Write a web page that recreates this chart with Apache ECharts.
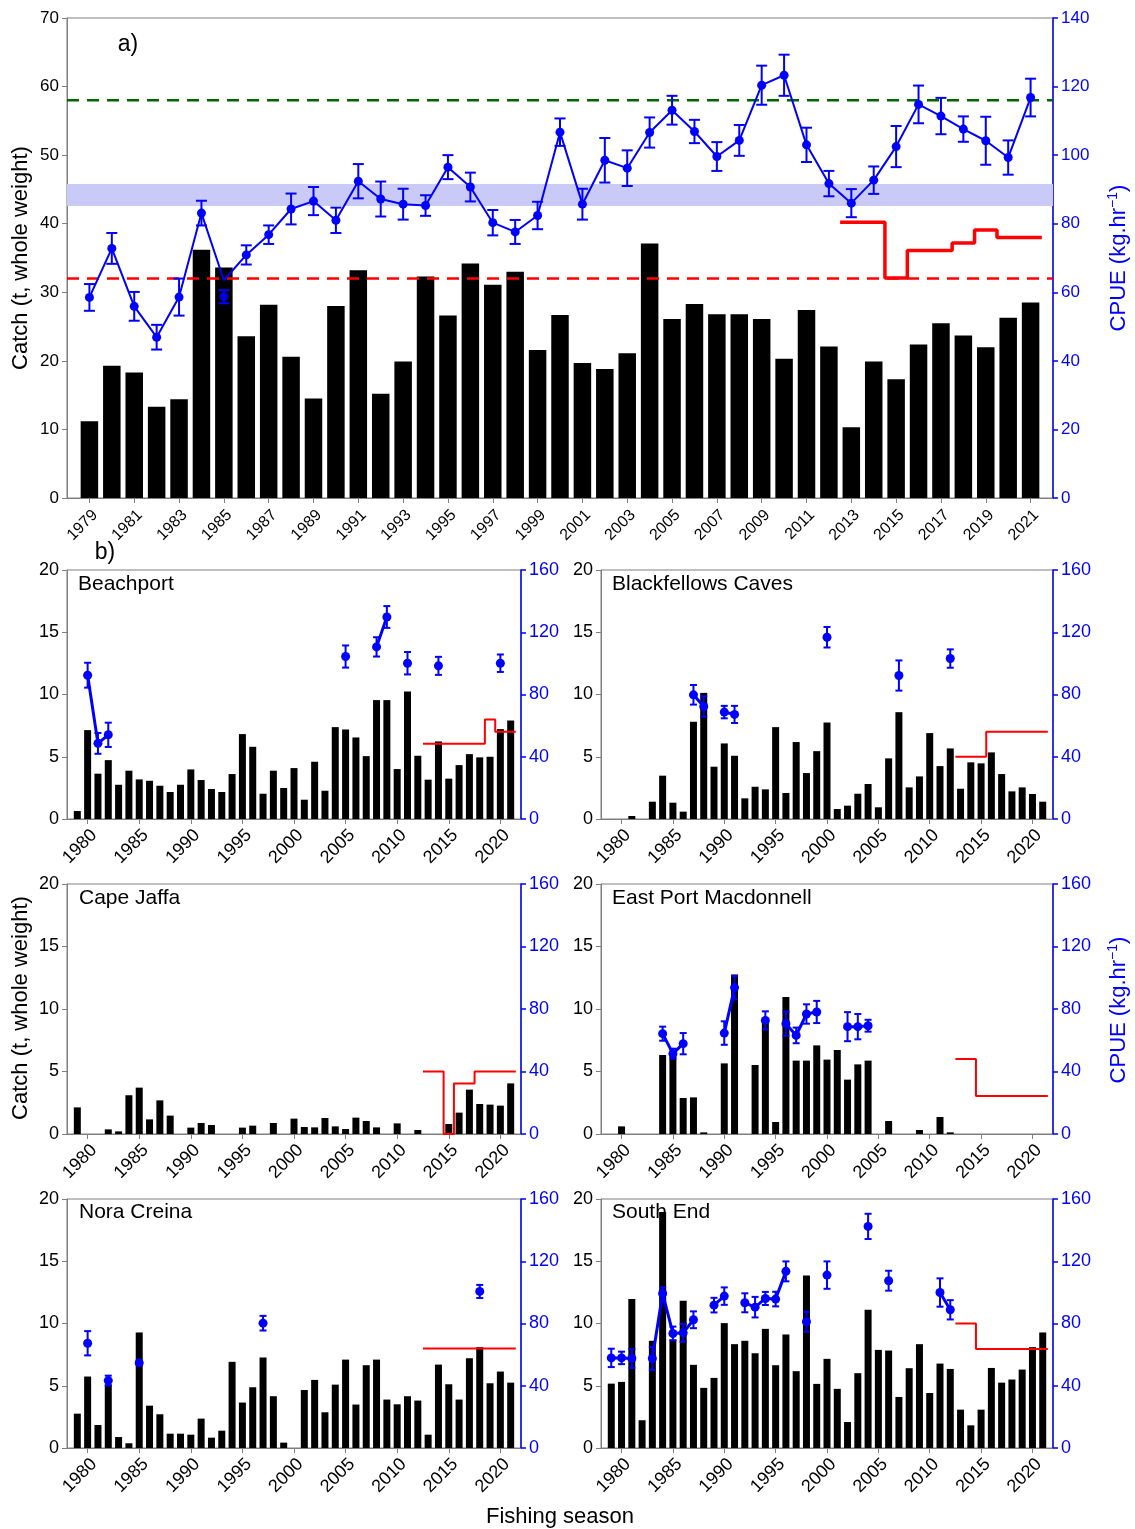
<!DOCTYPE html>
<html><head><meta charset="utf-8">
<script src="https://cdn.jsdelivr.net/npm/echarts@6/dist/echarts.min.js"></script>
<style>html,body{margin:0;padding:0;background:#fff}#c{width:1135px;height:1529px}</style>
</head><body><div id="c"></div>
<script>
// ---------------- DATA ----------------
const FIRST_YEAR = 1979, LAST_YEAR = 2021;
const years = [];
for (let y = FIRST_YEAR; y <= LAST_YEAR; y++) years.push(y);

// Panel a: whole zone
const totalCatch = [11.2,19.3,18.3,13.3,14.4,36.2,33.6,23.6,28.2,20.6,
                    14.5,28.0,33.2,15.2,19.9,32.3,26.6,34.2,31.1,33.0,
                    21.6,26.7,19.7,18.8,21.1,37.1,26.1,28.3,26.8,26.8,
                    26.1,20.3,27.4,22.1,10.3,19.9,17.3,22.4,25.5,23.7,
                    22.0,26.3,28.5];
const totalCpue = [58.5,72.8,55.9,46.9,58.6,83.1,63.5,70.9,76.8,84.3,
                   86.6,81.0,92.4,87.2,85.7,85.3,96.5,90.7,80.3,77.6,
                   82.4,106.7,85.7,98.5,96.2,106.6,113.1,106.9,99.6,104.3,
                   120.4,123.3,103.0,91.7,86.0,92.7,102.5,114.8,111.4,107.6,
                   104.2,99.3,116.8];
const totalCpueErr = [3.9,4.5,4.2,3.6,5.4,3.6,null,2.8,2.7,4.5,
                      4.1,3.7,5.0,5.1,4.5,3.0,3.5,4.2,3.7,3.5,
                      4.0,4.0,4.5,6.5,5.2,4.4,4.2,3.4,4.2,4.5,
                      5.7,6.0,5.0,3.7,4.1,4.0,6.0,5.5,5.3,3.7,
                      7.0,5.0,5.5];
const offLineYear = [1985], offLineCpue = [58.7], offLineErr = [1.9];
const totalTacX = [2012.5,2014.5,2015.5,2017.5,2018.5,2019.5,2021.5];
const totalTacY = [40.2,32.1,36.1,37.2,39.1,38.0,38.0];
const targetCpue = 116, limitCpue = 64;
const bandCpue = [85.2, 91.6];
const ticksA = years.filter(y => y % 2 === 1);
const ticksB = [1980,1985,1990,1995,2000,2005,2010,2015,2020];

// Beachport
const beachCatch = [0.64,7.14,3.64,4.73,2.75,3.88,3.18,3.07,2.67,2.17,
                    2.75,3.98,3.13,2.41,2.17,3.61,6.82,5.80,2.03,3.88,
                    2.49,4.09,1.55,4.60,2.27,7.38,7.19,6.55,5.05,9.55,
                    9.55,4.01,10.24,5.08,3.16,6.23,3.24,4.33,5.21,4.95,
                    5.0,7.22,7.91];
const beachCpueYears = [1980,1981,1982,2005,2008,2009,2011,2014,2020];
const beachCpue = [92.4,48.6,54.1,104.4,110.6,129.8,100.1,98.4,100.1];
const beachCpueErr = [8,6.7,7.8,7.1,6.2,7,7.2,5.8,5.6];
const beachTacX = [2012.5,2018.5,2019.5,2021.5];
const beachTacY = [6.04,8.0,7.0,7.0];

// Blackfellows Caves
const blackCatch = [null,null,0.24,null,1.39,3.48,1.31,0.59,7.81,10.13,
                    4.20,6.07,5.08,1.66,2.59,2.38,7.38,2.09,6.18,3.69,
                    5.45,7.75,0.80,1.07,2.03,2.81,0.94,4.87,8.58,2.54,
                    3.42,6.90,4.25,5.67,2.43,4.55,4.47,5.35,3.61,2.22,
                    2.54,2.01,1.39];
const blackCpueYears = [1987,1988,1990,1991,2000,2007,2012];
const blackCpue = [79.8,72.3,68.7,67.2,116.8,92.2,103.1];
const blackCpueErr = [6.3,6.5,4,5.5,6.6,9.7,5.9];
const blackTacX = [2012.5,2015.5,2021.5];
const blackTacY = [5.0,7.0,7.0];

// Cape Jaffa
const jaffaCatch = [2.13,null,null,0.37,0.21,3.1,3.71,1.17,2.69,1.47,
                    null,0.51,0.88,0.72,null,null,0.51,0.67,null,0.88,
                    null,1.23,0.56,0.53,1.28,0.61,0.40,1.31,1.04,0.53,
                    null,0.85,null,0.32,null,null,0.80,1.71,3.55,2.40,
                    2.35,2.27,4.05];
const jaffaCpueYears = [], jaffaCpue = [], jaffaCpueErr = [];
const jaffaTacX = [2012.5,2014.5,2015.5,2017.5,2021.5];
const jaffaTacY = [5.0,0,4.05,5.0,5.0];

// East Port Macdonnell
const eastCatch = [null,0.61,null,null,null,6.32,6.43,2.88,2.93,0.13,
                   null,5.65,12.77,null,5.52,9.12,0.96,10.96,5.87,5.87,
                   7.09,5.95,6.72,4.35,5.57,5.87,null,1.04,null,null,
                   0.32,null,1.36,0.13,null,null,null,null,null,null,
                   null,null,null];
const eastCpueYears = [1984,1985,1986,1990,1991,1994,1996,1997,1998,1999,2002,2003,2004];
const eastCpue = [64.2,51.4,57.8,64.6,93.7,72.7,70.6,63.1,76.8,78.1,68.7,68.7,69.3];
const eastCpueErr = [4.5,3.2,6.8,7.5,7.5,5.8,7.7,5,6.2,7.1,9.3,8.1,3.8];
const eastTacX = [2012.5,2014.5,2021.5];
const eastTacY = [6.0,3.04,3.04];

// Nora Creina
const noraCatch = [2.76,5.74,1.85,5.12,0.88,0.38,9.28,3.40,2.71,1.15,
                   1.15,1.07,2.36,0.83,1.39,6.92,3.65,4.88,7.27,4.16,
                   0.43,null,4.66,5.47,2.87,5.09,7.10,3.49,6.65,7.10,
                   3.89,3.51,4.16,3.81,1.07,6.70,5.12,3.89,7.21,8.10,
                   5.20,6.14,5.25];
const noraCpueYears = [1980,1982,1985,1997,2018];
const noraCpue = [67.3,43.3,54.7,80.2,100.6];
const noraCpueErr = [7.8,3.2,1.5,4.7,4.2];
const noraTacX = [2012.5,2021.5];
const noraTacY = [8.0,8.0];

// South End
const southCatch = [5.17,5.31,11.96,2.23,8.61,18.95,8.71,11.82,6.68,4.83,
                    5.63,10.03,8.34,8.61,7.61,9.57,6.65,9.12,6.17,13.86,
                    5.15,7.16,4.75,2.09,6.01,11.10,7.88,7.83,4.10,6.41,
                    8.34,4.42,6.78,6.35,3.08,1.82,3.08,6.43,5.25,5.50,
                    6.30,8.10,9.28];
const southCpueYears = [1979,1980,1981,1983,1984,1985,1986,1987,1989,1990,1992,1993,1994,1995,1996,1998,2000,2004,2006,2011,2012];
const southCpue = [57.9,57.9,57.5,57.5,99.3,73.6,74.0,82.4,91.8,97.6,93.3,90.5,96.1,95.7,113.5,81.1,111.1,142.4,107.5,99.9,88.8];
const southCpueErr = [5.9,4,6,7.3,4,4.4,5.7,5.4,4.7,5.6,6.1,6.6,4.2,4.7,6.4,6.4,8.8,8.1,6.4,9.1,6.2];
const southTacX = [2012.5,2014.5,2021.5];
const southTacY = [10.0,7.96,7.96];

const panelNames = ['Beachport','Blackfellows Caves','Cape Jaffa','East Port Macdonnell','Nora Creina','South End'];

// ---------------- STYLE / LAYOUT ----------------
const FONT = "'Liberation Sans', Arial, Helvetica, sans-serif";
const GRAY = '#7f7f7f', BLUE = '#0000ff', RED = '#ff0000', GREEN = '#006400';
const grids = [
  {left:67, top:18, width:986, height:480},
  {left:67, top:570, width:454, height:249}, {left:601, top:570, width:452, height:249},
  {left:67, top:884, width:454, height:250}, {left:601, top:884, width:452, height:250},
  {left:67, top:1199, width:454, height:249}, {left:601, top:1199, width:452, height:249}
];

const panels = [
  {c:beachCatch, cy:beachCpueYears, cv:beachCpue, ce:beachCpueErr, tx:beachTacX, ty:beachTacY},
  {c:blackCatch, cy:blackCpueYears, cv:blackCpue, ce:blackCpueErr, tx:blackTacX, ty:blackTacY},
  {c:jaffaCatch, cy:jaffaCpueYears, cv:jaffaCpue, ce:jaffaCpueErr, tx:jaffaTacX, ty:jaffaTacY},
  {c:eastCatch, cy:eastCpueYears, cv:eastCpue, ce:eastCpueErr, tx:eastTacX, ty:eastTacY},
  {c:noraCatch, cy:noraCpueYears, cv:noraCpue, ce:noraCpueErr, tx:noraTacX, ty:noraTacY},
  {c:southCatch, cy:southCpueYears, cv:southCpue, ce:southCpueErr, tx:southTacX, ty:southTacY}
];

// ---------------- BUILD ----------------
const xAxes = [], yAxes = [], series = [];
grids.forEach((g, i) => {
  const isA = i === 0;
  const fsx = isA ? 16 : 18;
  const fsy = isA ? 17 : 18;
  const ticks = isA ? ticksA : ticksB;
  xAxes.push({
    type:'value', gridIndex:i, min:1978, max:2022,
    axisLine:{show:true, onZero:false, lineStyle:{color:GRAY, width:1}},
    axisTick:{show:true, customValues:ticks, length:5, lineStyle:{color:GRAY}},
    axisLabel:{customValues:ticks, rotate:45, fontSize:fsx, color:'#000', fontFamily:FONT,
               margin: isA ? 9 : 7, verticalAlign:'top',
               formatter: v => String(v)},
    splitLine:{show:false}
  });
  yAxes.push({
    type:'value', gridIndex:i, position:'left', min:0, max: isA ? 70 : 20, interval: isA ? 10 : 5,
    axisLine:{show:true, lineStyle:{color:GRAY, width:1}},
    axisTick:{show:true, length:5, lineStyle:{color:GRAY}},
    axisLabel:{fontSize:fsy, color:'#000', fontFamily:FONT, margin:8},
    splitLine:{show:false}
  });
  yAxes.push({
    type:'value', gridIndex:i, position:'right', min:0, max: isA ? 140 : 160, interval: isA ? 20 : 40,
    axisLine:{show:true, lineStyle:{color:BLUE, width:1.5}},
    axisTick:{show:true, length:5, lineStyle:{color:BLUE, width:1.5}},
    axisLabel:{fontSize:fsy, color:BLUE, fontFamily:FONT, margin:8},
    splitLine:{show:false}
  });
});

function errRender(cap, lw) {
  return function (params, api) {
    const x = api.value(0), lo = api.value(1), hi = api.value(2);
    const a = api.coord([x, lo]), b = api.coord([x, hi]);
    const st = {stroke: BLUE, lineWidth: lw, fill: null};
    return {type:'group', children:[
      {type:'line', shape:{x1:a[0], y1:a[1], x2:b[0], y2:b[1]}, style:st},
      {type:'line', shape:{x1:a[0]-cap, y1:a[1], x2:a[0]+cap, y2:a[1]}, style:st},
      {type:'line', shape:{x1:b[0]-cap, y1:b[1], x2:b[0]+cap, y2:b[1]}, style:st}
    ]};
  };
}
function barData(arr) {
  const out = [];
  years.forEach((y, k) => { if (arr[k] != null) out.push([y, arr[k]]); });
  return out;
}
function lineData(yrs, vals) {
  const out = [];
  for (let k = 0; k < yrs.length; k++) {
    if (k > 0 && yrs[k] - yrs[k-1] > 1) out.push([yrs[k-1] + 1, '-']);
    out.push([yrs[k], vals[k]]);
  }
  return out;
}
function errData(yrs, vals, errs) {
  const out = [];
  yrs.forEach((y, k) => { if (errs[k] != null) out.push([y, vals[k] - errs[k], vals[k] + errs[k]]); });
  return out;
}

// Panel a series
series.push({type:'bar', xAxisIndex:0, yAxisIndex:0, data:barData(totalCatch), barWidth:17.5,
  itemStyle:{color:'#000'}, z:2, silent:true});
series.push({type:'line', xAxisIndex:0, yAxisIndex:1, data:[[1978,targetCpue],[2022,targetCpue]],
  symbol:'none', lineStyle:{color:GREEN, width:2.5, type:[12,8]}, z:3, silent:true,
  markArea:{silent:true, itemStyle:{color:'#cacaf8'}, data:[[{yAxis:bandCpue[0]},{yAxis:bandCpue[1]}]]}});
series.push({type:'line', xAxisIndex:0, yAxisIndex:1, data:[[1978,limitCpue],[2022,limitCpue]],
  symbol:'none', lineStyle:{color:RED, width:2.5, type:[12,8]}, z:3, silent:true});
series.push({type:'line', step:'end', xAxisIndex:0, yAxisIndex:0,
  data: totalTacX.map((x,k) => [x, totalTacY[k]]), symbol:'none',
  lineStyle:{color:RED, width:3.5}, z:4, silent:true});
series.push({type:'custom', xAxisIndex:0, yAxisIndex:1, renderItem:errRender(5.5, 2),
  data: errData(years, totalCpue, totalCpueErr).concat(errData(offLineYear, offLineCpue, offLineErr)),
  encode:{x:0, y:[1,2]}, z:5, silent:true});
series.push({type:'line', xAxisIndex:0, yAxisIndex:1,
  data: years.map((y,k) => offLineYear.includes(y) ? {value:[y,totalCpue[k]], symbol:'none'} : [y,totalCpue[k]]),
  symbol:'circle', symbolSize:9, showAllSymbol:true, itemStyle:{color:BLUE},
  lineStyle:{color:BLUE, width:2}, z:6, silent:true});
series.push({type:'scatter', xAxisIndex:0, yAxisIndex:1,
  data: offLineYear.map((y,k) => [y, offLineCpue[k]]), symbolSize:9, itemStyle:{color:BLUE}, z:6, silent:true});

// Panel b series
panels.forEach((p, j) => {
  const gi = j + 1;
  series.push({type:'bar', xAxisIndex:gi, yAxisIndex:2*gi, data:barData(p.c), barWidth:7,
    itemStyle:{color:'#000'}, z:2, silent:true});
  series.push({type:'line', step:'end', xAxisIndex:gi, yAxisIndex:2*gi,
    data: p.tx.map((x,k) => [x, p.ty[k]]), symbol:'none',
    lineStyle:{color:RED, width:2}, z:4, silent:true});
  if (p.cy.length) {
    series.push({type:'custom', xAxisIndex:gi, yAxisIndex:2*gi+1, renderItem:errRender(3.5, 2),
      data: errData(p.cy, p.cv, p.ce), encode:{x:0, y:[1,2]}, z:5, silent:true});
    series.push({type:'line', xAxisIndex:gi, yAxisIndex:2*gi+1, data: lineData(p.cy, p.cv),
      symbol:'circle', symbolSize:9, showAllSymbol:true, connectNulls:false,
      itemStyle:{color:BLUE}, lineStyle:{color:BLUE, width:3}, z:6, silent:true});
  }
});

// Texts
const graphics = [];
function vtext(x, y, rich, text) {
  graphics.push({type:'text', x:x, y:y, rotation:Math.PI/2,
    style:{text:text, rich:rich, fontFamily:FONT, align:'center', verticalAlign:'middle'}});
}
const catchRich = {a:{fontSize:22, fill:'#000', fontFamily:FONT}};
const cpueRich = {a:{fontSize:22, fill:BLUE, fontFamily:FONT, lineHeight:26},
                  s:{fontSize:14, fill:BLUE, fontFamily:FONT, verticalAlign:'top', lineHeight:26}};
vtext(21, 258, catchRich, '{a|Catch (t, whole weight)}');
vtext(1119, 258, cpueRich, '{a|CPUE (kg.hr}{s|−1}{a|)}');
vtext(21, 1008, catchRich, '{a|Catch (t, whole weight)}');
vtext(1119, 1010, cpueRich, '{a|CPUE (kg.hr}{s|−1}{a|)}');
graphics.push({type:'text', x:560, y:1517, style:{text:'Fishing season', fontSize:22, fontFamily:FONT, fill:'#000', align:'center', verticalAlign:'middle'}});
graphics.push({type:'text', x:128, y:45, style:{text:'a)', fontSize:23, fontFamily:FONT, fill:'#000', align:'center', verticalAlign:'middle'}});
graphics.push({type:'text', x:105, y:553, style:{text:'b)', fontSize:23, fontFamily:FONT, fill:'#000', align:'center', verticalAlign:'middle'}});
const namePos = [[78,584],[612,584],[79,898],[612,898],[79,1212],[612,1212]];
panelNames.forEach((n, j) => {
  graphics.push({type:'text', x:namePos[j][0], y:namePos[j][1], z:100,
    style:{text:n, fontSize:21, fontFamily:FONT, fill:'#000', align:'left', verticalAlign:'middle'}});
});

const chart = echarts.init(document.getElementById('c'), null, {renderer:'canvas'});
chart.setOption({
  animation:false,
  backgroundColor:'#fff',
  textStyle:{fontFamily:FONT},
  grid: grids.map(g => Object.assign({show:true, borderColor:GRAY, borderWidth:1, backgroundColor:'transparent', containLabel:false}, g)),
  xAxis:xAxes, yAxis:yAxes, series:series, graphic:graphics
});
</script></body></html>
